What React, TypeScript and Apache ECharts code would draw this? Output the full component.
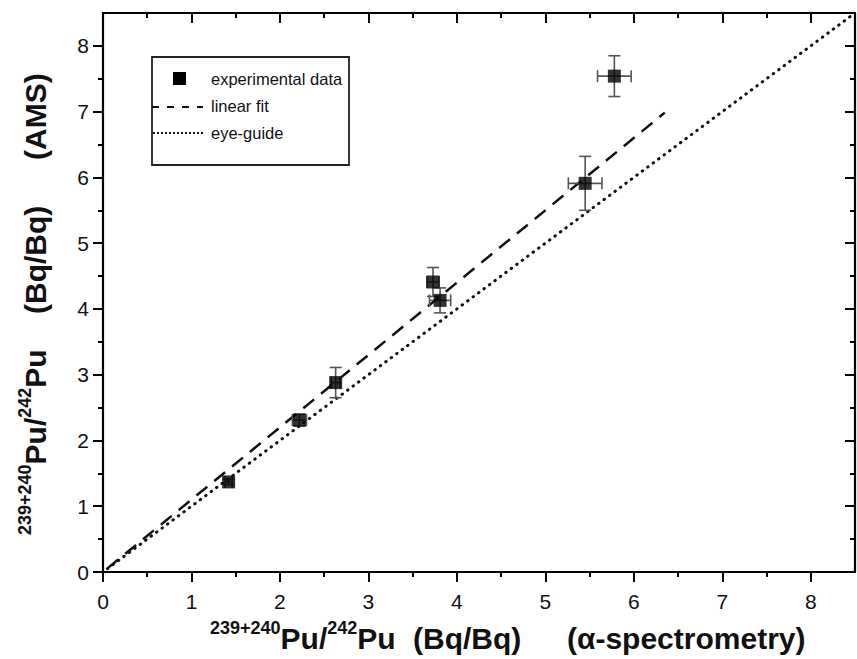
import React, { useEffect, useRef } from "react";
import * as echarts from "echarts";

// experimental data: alpha-spectrometry (x) vs AMS (y)
const xValues = [1.42, 2.22, 2.63, 3.73, 3.81, 5.45, 5.78];
const yValues = [1.37, 2.31, 2.88, 4.41, 4.13, 5.91, 7.54];
const xErrors = [0.04, 0.08, 0.05, 0.07, 0.12, 0.19, 0.19];
const yErrors = [0.04, 0.09, 0.23, 0.22, 0.19, 0.41, 0.31];

// linear fit and eye-guide (y = x)
const fitX = [0.05, 6.35];
const fitY = [0.055, 6.985];
const guideX = [0.05, 8.5];
const guideY = [0.05, 8.5];

const majorTicks = [0, 1, 2, 3, 4, 5, 6, 7, 8];
const minorTicks = [0.5, 1.5, 2.5, 3.5, 4.5, 5.5, 6.5, 7.5];
const legendLabels = ["experimental data", "linear fit", "eye-guide"];

const FONT = "'Liberation Sans', Arial, Helvetica, sans-serif";
const AXIS_COLOR = "#000";

function makeAxis(
  gridIndex: number,
  position: string,
  ticks: number[],
  length: number,
  inside: boolean,
  showLabel: boolean,
  showLine: boolean,
  isX: boolean
) {
  return {
    type: "value",
    gridIndex,
    position,
    min: 0,
    max: 8.5,
    axisLine: { show: showLine, onZero: false, lineStyle: { color: AXIS_COLOR, width: 2.2 } },
    axisTick: {
      show: true,
      inside,
      length,
      customValues: ticks,
      lineStyle: { color: AXIS_COLOR, width: 2 },
    },
    axisLabel: {
      show: showLabel,
      customValues: ticks,
      margin: isX ? 19 : 14,
      fontFamily: FONT,
      fontSize: 21,
      color: "#111",
    },
    splitLine: { show: false },
  };
}

export default function App() {
  const ref = useRef<HTMLDivElement | null>(null);

  useEffect(() => {
    if (!ref.current) return;
    const chart = echarts.init(ref.current, undefined, { renderer: "svg" });
    const box = { left: 103, top: 13, width: 752, height: 559 };

    const points = xValues.map((x, i) => [x, yValues[i], xErrors[i], yErrors[i]]);
    const fitData = fitX.map((x, i) => [x, fitY[i]]);
    const guideData = guideX.map((x, i) => [x, guideY[i]]);

    const sup = { fontFamily: FONT, fontSize: 18, fontWeight: "bold", lineHeight: 12, verticalAlign: "top", fill: "#111" };
    const big = { fontFamily: FONT, fontSize: 30, fontWeight: "bold", lineHeight: 38, fill: "#111" };
    const titleStyle = (text: string) => ({
      text,
      rich: { s: sup, b: big },
      textAlign: "left",
      textVerticalAlign: "middle",
      fill: "#111",
    });

    const option: any = {
      animation: false,
      backgroundColor: "#ffffff",
      grid: [0, 1, 2, 3].map(() => ({ ...box, containLabel: false })),
      xAxis: [
        makeAxis(0, "bottom", majorTicks, 10, false, true, true, true),
        makeAxis(1, "bottom", minorTicks, 5, false, false, false, true),
        makeAxis(2, "top", majorTicks, 10, true, false, true, true),
        makeAxis(3, "top", minorTicks, 5, true, false, false, true),
      ],
      yAxis: [
        makeAxis(0, "left", majorTicks, 10, false, true, true, false),
        makeAxis(1, "left", minorTicks, 5, false, false, false, false),
        makeAxis(2, "right", majorTicks, 10, true, false, true, false),
        makeAxis(3, "right", minorTicks, 5, true, false, false, false),
      ],
      series: [
        {
          type: "line",
          xAxisIndex: 0,
          yAxisIndex: 0,
          data: guideData,
          showSymbol: false,
          symbol: "none",
          lineStyle: { color: "#111", width: 3, type: [0.5, 6.3], cap: "round" },
          z: 2,
        },
        {
          type: "line",
          xAxisIndex: 0,
          yAxisIndex: 0,
          data: fitData,
          showSymbol: false,
          symbol: "none",
          lineStyle: { color: "#111", width: 2.5, type: [14, 9] },
          z: 2,
        },
        {
          type: "custom",
          xAxisIndex: 0,
          yAxisIndex: 0,
          data: points,
          z: 3,
          renderItem: (params: any, api: any) => {
            const x = api.value(0);
            const y = api.value(1);
            const xe = api.value(2);
            const ye = api.value(3);
            const left = api.coord([x - xe, y]);
            const right = api.coord([x + xe, y]);
            const top = api.coord([x, y + ye]);
            const bottom = api.coord([x, y - ye]);
            const c = 6;
            const style = { stroke: "#555", lineWidth: 1.6, fill: "none" };
            return {
              type: "group",
              children: [
                { type: "line", shape: { x1: left[0], y1: left[1], x2: right[0], y2: right[1] }, style },
                { type: "line", shape: { x1: top[0], y1: top[1], x2: bottom[0], y2: bottom[1] }, style },
                { type: "line", shape: { x1: top[0] - c, y1: top[1], x2: top[0] + c, y2: top[1] }, style },
                { type: "line", shape: { x1: bottom[0] - c, y1: bottom[1], x2: bottom[0] + c, y2: bottom[1] }, style },
                { type: "line", shape: { x1: left[0], y1: left[1] - c, x2: left[0], y2: left[1] + c }, style },
                { type: "line", shape: { x1: right[0], y1: right[1] - c, x2: right[0], y2: right[1] + c }, style },
              ],
            };
          },
        },
        {
          type: "scatter",
          xAxisIndex: 0,
          yAxisIndex: 0,
          data: points.map((p) => [p[0], p[1]]),
          symbol: "rect",
          symbolSize: 13,
          itemStyle: { color: "#000" },
          z: 4,
        },
      ],
      graphic: [
        // legend
        { type: "rect", shape: { x: 152, y: 57, width: 197, height: 108 }, style: { fill: "#fff", stroke: "#222", lineWidth: 1.8 }, z: 10 },
        { type: "rect", shape: { x: 173, y: 72, width: 13, height: 13 }, style: { fill: "#000" }, z: 11 },
        { type: "line", shape: { x1: 152, y1: 107, x2: 203, y2: 107 }, style: { stroke: "#111", lineWidth: 2, lineDash: [7, 8] }, z: 11 },
        { type: "line", shape: { x1: 153, y1: 133, x2: 203, y2: 133 }, style: { stroke: "#111", lineWidth: 2, lineDash: [2, 2] }, z: 11 },
        ...legendLabels.map((t, i) => ({
          type: "text",
          x: 211,
          y: [79, 106, 133][i],
          z: 11,
          style: { text: t, fontFamily: FONT, fontSize: 16.5, fill: "#111", textAlign: "left", textVerticalAlign: "middle" },
        })),
        // x-axis title
        { type: "text", x: 210, y: 638, style: titleStyle("{s|239+240}{b|Pu/}{s|242}{b|Pu}") },
        { type: "text", x: 413, y: 638, style: titleStyle("{b|(Bq/Bq)}") },
        { type: "text", x: 567, y: 638, style: titleStyle("{b|(α-spectrometry)}") },
        // y-axis title
        { type: "text", x: 35, y: 535, rotation: Math.PI / 2, style: titleStyle("{s|239+240}{b|Pu/}{s|242}{b|Pu}") },
        { type: "text", x: 35, y: 314, rotation: Math.PI / 2, style: titleStyle("{b|(Bq/Bq)}") },
        { type: "text", x: 35, y: 160, rotation: Math.PI / 2, style: titleStyle("{b|(AMS)}") },
      ],
    };

    chart.setOption(option);
    return () => chart.dispose();
  }, []);

  return (
    <div
      ref={ref}
      style={{ position: "fixed", left: 0, top: 0, width: 857, height: 659, background: "#fff" }}
    />
  );
}
